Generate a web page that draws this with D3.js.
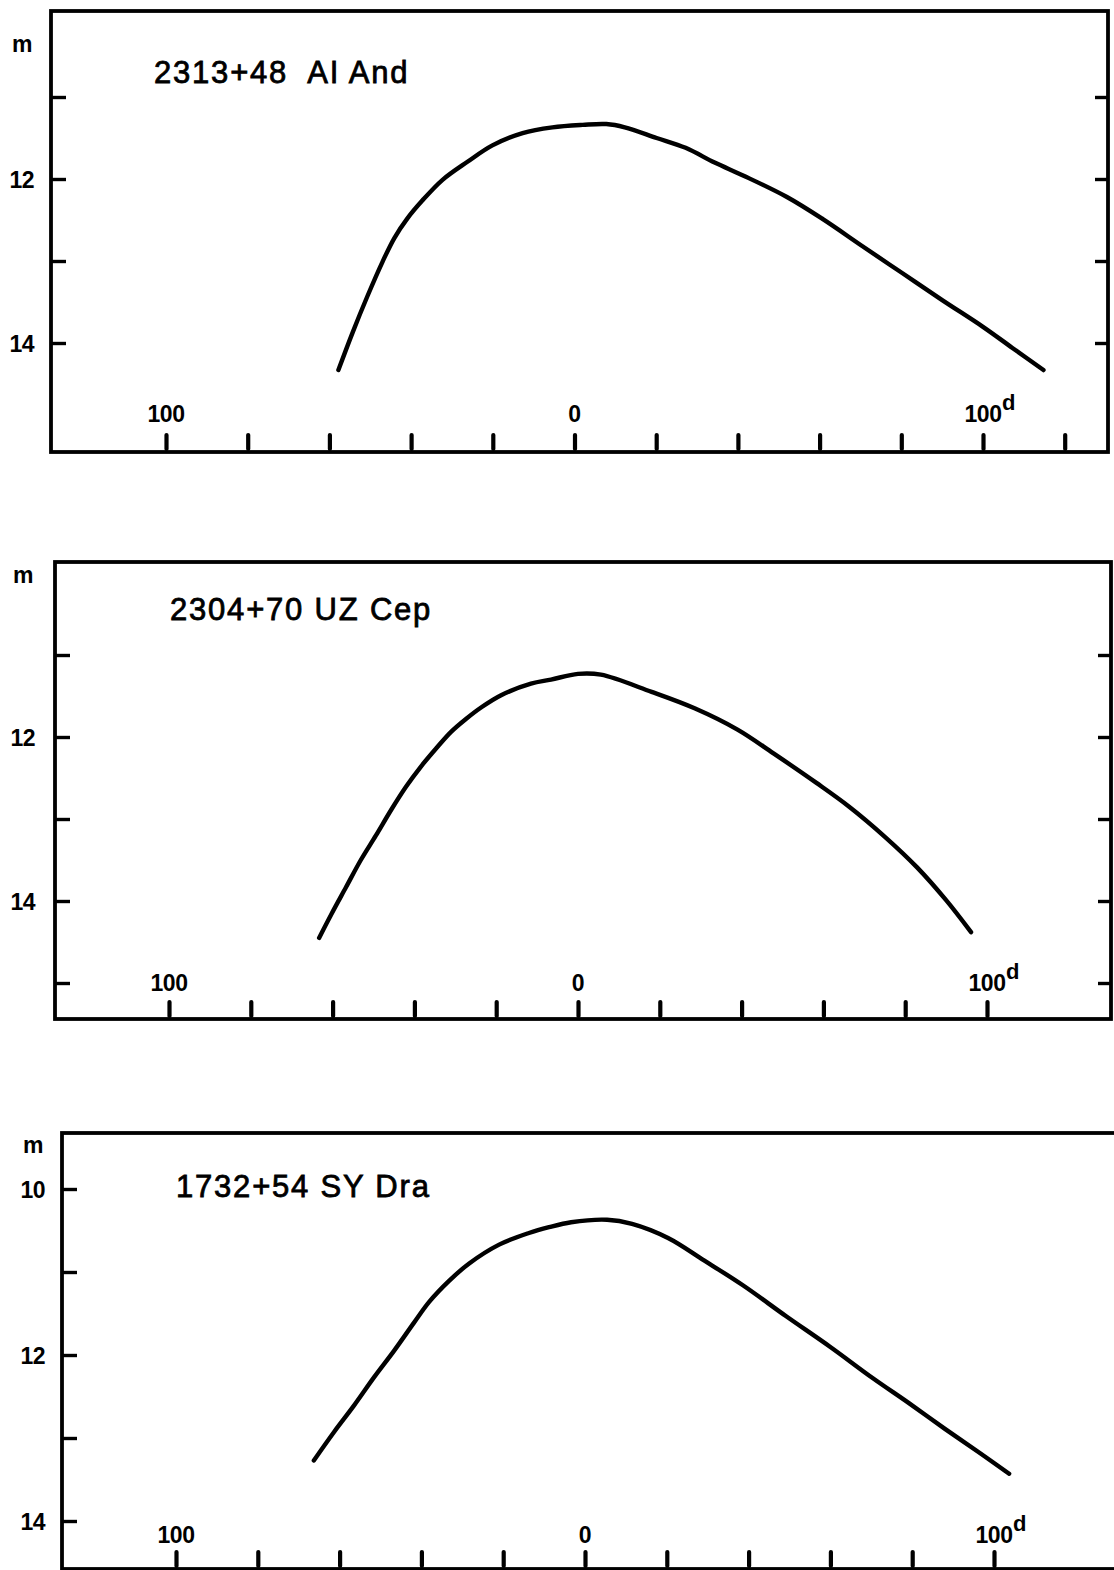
<!DOCTYPE html>
<html>
<head>
<meta charset="utf-8">
<script src="https://cdn.jsdelivr.net/npm/d3@7"></script>
<style>
    body { margin: 0; background: #fff; }
    svg { display: block; }
    text { font-family: "Liberation Sans", Arial, sans-serif; fill: #000; }
</style>
</head>
<body>
<svg id="chart" width="1114" height="1570"></svg>
<script>
// light curves: days from maximum, magnitude
const aiAndDays = [-57.8, -54.3, -50.7, -47.0, -44.1, -40.9, -37.2, -32.3, -26.2, -20.1, -12.7, -5.4, 2, 7.8, 12.3, 20.1, 27.2, 34.3, 41.4, 52, 60.8, 70.5, 80.3, 90.1, 99.9, 107.2, 114.8];
const aiAndMags = [14.33, 13.87, 13.43, 13.01, 12.72, 12.48, 12.26, 12.01, 11.79, 11.59, 11.44, 11.37, 11.34, 11.33, 11.37, 11.50, 11.62, 11.80, 11.96, 12.22, 12.49, 12.82, 13.15, 13.48, 13.80, 14.06, 14.33];

const uzCepDays = [-63.3, -60.4, -56.7, -53.1, -49.4, -45.7, -42.1, -38.4, -34.7, -31.1, -27.4, -23.7, -18.8, -11.5, -6.6, 0, 5.6, 18, 28.5, 39, 47.8, 58.3, 66.3, 75.1, 82.9, 90, 96.1];
const uzCepMags = [14.45, 14.17, 13.83, 13.50, 13.20, 12.89, 12.61, 12.36, 12.14, 11.94, 11.78, 11.64, 11.49, 11.35, 11.30, 11.23, 11.24, 11.45, 11.65, 11.91, 12.20, 12.56, 12.85, 13.22, 13.59, 13.99, 14.38];

const syDraDays = [-66.3, -61.4, -56.5, -51.6, -46.7, -41.8, -38.1, -33.3, -28.4, -21.0, -13.7, -8.8, -3.4, 5.4, 11.5, 20.3, 29.1, 38.6, 49.1, 59.9, 70.4, 79.2, 88.0, 96.8, 103.7];
const syDraMags = [13.27, 12.93, 12.61, 12.27, 11.95, 11.61, 11.36, 11.11, 10.90, 10.67, 10.53, 10.46, 10.40, 10.37, 10.42, 10.59, 10.86, 11.16, 11.53, 11.90, 12.28, 12.58, 12.89, 13.19, 13.43];

const titles = ["2313+48  AI And", "2304+70 UZ Cep", "1732+54 SY Dra"];

// ticks
const dayTicksLong = [-100, -80, -60, -40, -20, 0, 20, 40, 60, 80, 100, 120];
const dayTicks = [-100, -80, -60, -40, -20, 0, 20, 40, 60, 80, 100];
const dayLabels = [-100, 0, 100];
const aiAndMagTicks = [11, 12, 13, 14];
const uzCepMagTicks = [11, 12, 13, 14, 15];
const syDraMagTicks = [10, 11, 12, 13, 14];
const aiAndMagLabels = [12, 14];
const uzCepMagLabels = [12, 14];
const syDraMagLabels = [10, 12, 14];

// page layout of each panel (pixel anchors of the scales and the frame)
var panels = [
    {
        days: aiAndDays, mags: aiAndMags, title: titles[0],
        xTicks: dayTicksLong, yTicks: aiAndMagTicks, yLabels: aiAndMagLabels,
        frame: {x0: 51, y0: 11, x1: 1108, y1: 452},
        xDom: [-100, 100], xRange: [166, 983],
        yDom: [12, 14], yRange: [179, 343],
        titlePos: [154, 83], labelY: 422, mY: 52, yLabelX: 34
    },
    {
        days: uzCepDays, mags: uzCepMags, title: titles[1],
        xTicks: dayTicks, yTicks: uzCepMagTicks, yLabels: uzCepMagLabels,
        frame: {x0: 55, y0: 562, x1: 1111, y1: 1019},
        xDom: [-100, 100], xRange: [169, 987],
        yDom: [12, 14], yRange: [737, 901],
        titlePos: [170, 620], labelY: 991, mY: 583, yLabelX: 35
    },
    {
        days: syDraDays, mags: syDraMags, title: titles[2],
        xTicks: dayTicks, yTicks: syDraMagTicks, yLabels: syDraMagLabels,
        frame: {x0: 62, y0: 1133, x1: 1130, y1: 1569},
        xDom: [-100, 100], xRange: [176, 994],
        yDom: [10, 14], yRange: [1189, 1521],
        titlePos: [176, 1197], labelY: 1543, mY: 1153, yLabelX: 45
    }
];

var svg = d3.select("#chart");
svg.append("rect").attr("width", 1114).attr("height", 1570).attr("fill", "#fff");

panels.forEach(p => drawPanel(p));

function drawPanel(p) {
    var g = svg.append("g");
    var f = p.frame;

    var x = d3.scaleLinear().domain(p.xDom).range(p.xRange);
    var y = d3.scaleLinear().domain(p.yDom).range(p.yRange);

    // frame
    g.append("rect")
        .attr("x", f.x0).attr("y", f.y0)
        .attr("width", f.x1 - f.x0).attr("height", f.y1 - f.y0)
        .attr("fill", "none")
        .attr("stroke", "#000")
        .attr("stroke-width", 3.8);

    // inward ticks on both sides, upward ticks on the bottom
    var leftAxis = g.append("g")
        .attr("transform", "translate(" + f.x0 + ",0)")
        .call(d3.axisRight(y).tickValues(p.yTicks).tickSize(15).tickFormat(""));
    var rightAxis = g.append("g")
        .attr("transform", "translate(" + f.x1 + ",0)")
        .call(d3.axisLeft(y).tickValues(p.yTicks).tickSize(13).tickFormat(""));
    var bottomAxis = g.append("g")
        .attr("transform", "translate(0," + f.y1 + ")")
        .call(d3.axisBottom(x).tickValues(p.xTicks).tickSize(-17).tickFormat(""));

    [leftAxis, rightAxis, bottomAxis].forEach(a => {
        a.select(".domain").remove();
        a.selectAll(".tick line")
            .attr("stroke", "#000")
            .attr("stroke-width", 3.4);
    });
    bottomAxis.selectAll(".tick line")
        .attr("stroke-width", 4.2)
        .attr("stroke-linecap", "round")
        .attr("y1", -3);

    // magnitude labels
    g.selectAll(".ylab")
        .data(p.yLabels)
        .enter().append("text")
        .attr("class", "ylab")
        .attr("x", p.yLabelX)
        .attr("y", d => y(d) + 9)
        .attr("text-anchor", "end")
        .attr("font-size", 23)
        .attr("font-weight", "bold")
        .attr("letter-spacing", -0.5)
        .text(d => d);

    g.append("text")
        .attr("x", p.yLabelX - 22)
        .attr("y", p.mY)
        .attr("font-size", 23)
        .attr("font-weight", "bold")
        .text("m");

    // day labels (the left one is 100 days before maximum)
    g.selectAll(".xlab")
        .data(dayLabels)
        .enter().append("text")
        .attr("class", "xlab")
        .attr("x", d => x(d))
        .attr("y", p.labelY)
        .attr("text-anchor", "middle")
        .attr("font-size", 23)
        .attr("font-weight", "bold")
        .attr("letter-spacing", -0.5)
        .text(d => Math.abs(d));

    g.append("text")
        .attr("x", x(100) + 19)
        .attr("y", p.labelY - 12)
        .attr("font-size", 22)
        .attr("font-weight", "bold")
        .text("d");

    // title
    g.append("text")
        .attr("x", p.titlePos[0])
        .attr("y", p.titlePos[1])
        .attr("font-size", 31)
        .attr("letter-spacing", 1.8)
        .attr("stroke", "#000")
        .attr("stroke-width", 0.8)
        .attr("xml:space", "preserve")
        .style("white-space", "pre")
        .text(p.title);

    // light curve
    var pts = p.days.map((d, i) => [d, p.mags[i]]);
    var line = d3.line()
        .x(d => x(d[0]))
        .y(d => y(d[1]))
        .curve(d3.curveCatmullRom.alpha(0.5));

    g.append("path")
        .datum(pts)
        .attr("d", line)
        .attr("fill", "none")
        .attr("stroke", "#000")
        .attr("stroke-width", 4.4)
        .attr("stroke-linecap", "round")
        .attr("stroke-linejoin", "round");
}
</script>
</body>
</html>
